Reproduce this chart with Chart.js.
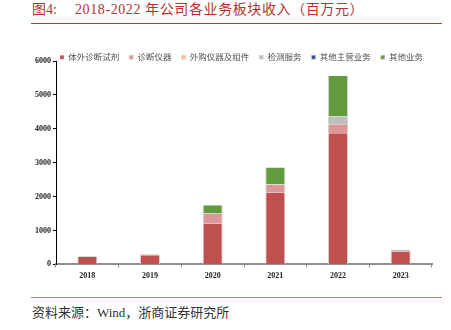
<!DOCTYPE html>
<html>
<head>
<meta charset="utf-8">
<script src="https://cdn.jsdelivr.net/npm/chart.js@4.4.1/dist/chart.umd.min.js"></script>
<style>
  body { margin: 0; width: 451px; height: 330px; background: #fff; position: relative; overflow: hidden;
         font-family: "Liberation Serif", "Noto Sans CJK SC", serif; }
  .title { position: absolute; top: 2px; font-size: 14px; line-height: 16px; color: #b5302c; white-space: nowrap; }
  .rule { position: absolute; left: 31px; width: 411px; height: 1px; }
  #wrap { position: absolute; left: 33px; top: 43px; width: 422px; height: 242px; }
  .src { position: absolute; left: 32px; top: 305px; font-size: 13px; line-height: 15px; color: #333; white-space: nowrap; }
</style>
</head>
<body>
<div class="title" style="left:32px">图4:</div>
<div class="title" style="left:75px;letter-spacing:0.6px">2018-2022 年公司各业务板块收入（百万元）</div>
<div class="rule" style="top:23px;background:#c0392b"></div>
<div id="wrap"><canvas id="bizChart"></canvas></div>
<div class="rule" style="top:297px;background:#e07070"></div>
<div class="src">资料来源：Wind，浙商证券研究所</div>

<script>
// revenue by business segment, million CNY
const years = ['2018', '2019', '2020', '2021', '2022', '2023'];
const reagents = [215, 270, 1200, 2120, 3870, 370];
const instruments = [10, 5, 300, 230, 265, 25];
const purchased = [0, 0, 0, 0, 0, 0];
const testing = [5, 0, 0, 10, 225, 45];
const otherMain = [0, 0, 0, 0, 0, 0];
const otherBiz = [20, 20, 245, 500, 1200, 0];
const yTicks = [0, 1000, 2000, 3000, 4000, 5000, 6000];

const seriesNames = ['体外诊断试剂', '诊断仪器', '外购仪器及组件', '检测服务', '其他主营业务', '其他业务'];
const seriesData = [reagents, instruments, purchased, testing, otherMain, otherBiz];
const seriesColors = ['#c0504d', '#dc9898', '#f9c08f', '#bfbfbf', '#2f5597', '#619b3d'];

const numFont = { family: 'Liberation Serif', size: 8, weight: 'bold' };

// legend sits over the top of the plot, so keep it from pushing the axes down
const legendTrim = {
  id: 'legendTrim',
  afterInit(chart) {
    const fit = chart.legend.fit;
    chart.legend.fit = function () {
      fit.call(this);
      this.height = 18;
    };
  },
  afterLayout(chart) {
    const lg = chart.legend;
    // widen the clip box so the labels are not cut off, nudge it over the plot
    lg.bottom = lg.top + 30;
    lg.left += 9;
    lg.right += 9;
  }
};

new Chart(document.getElementById('bizChart'), {
  type: 'bar',
  data: {
    labels: years,
    datasets: seriesNames.map((name, i) => ({
      label: name,
      data: seriesData[i],
      backgroundColor: seriesColors[i],
      borderColor: '#d2d2d2',
      borderWidth: { left: 1, right: 1, top: 0, bottom: 0 },
      categoryPercentage: 1,
      barPercentage: 0.32
    }))
  },
  options: {
    responsive: true,
    maintainAspectRatio: false,
    animation: false,
    layout: { padding: { left: 0, right: 23, top: 0, bottom: 0 } },
    plugins: {
      tooltip: { enabled: false },
      legend: {
        position: 'top',
        labels: {
          boxWidth: 4,
          boxHeight: 4,
          padding: 10,
          color: '#505050',
          font: { family: 'Noto Sans CJK SC', size: 8.5 }
        }
      }
    },
    scales: {
      x: {
        stacked: true,
        border: { color: '#8c8c8c', width: 2 },
        grid: { drawOnChartArea: false, drawTicks: true, tickLength: 3, color: '#8c8c8c' },
        ticks: { color: '#222', font: numFont, padding: 4, maxRotation: 0 }
      },
      y: {
        stacked: true,
        min: 0,
        max: 6000,
        afterFit(scale) { scale.width = 23; },
        afterBuildTicks(scale) { scale.ticks = yTicks.map(v => ({ value: v })); },
        border: { color: '#000', width: 1 },
        grid: { drawOnChartArea: false, drawTicks: true, tickLength: 3, color: '#000' },
        ticks: { color: '#222', font: numFont, padding: 2, callback: v => String(v) }
      }
    }
  },
  plugins: [legendTrim]
});
</script>
</body>
</html>
